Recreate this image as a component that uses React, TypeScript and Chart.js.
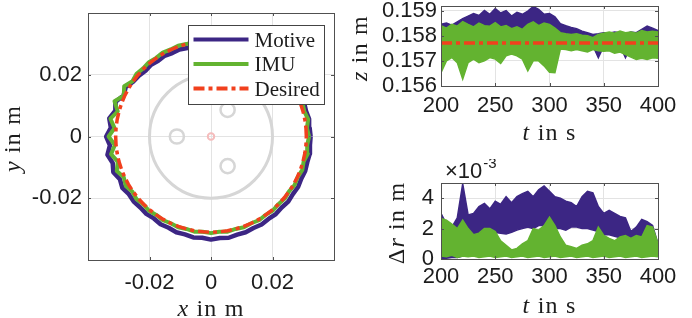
import React, { useEffect, useRef } from 'react';
import { Chart, registerables } from 'chart.js';

Chart.register(...registerables);

// ================= DATA =================
// Left panel: trajectory in the x-y plane, radius (mm) read at each angle (deg)
const ANGLES_DEG = [
  0, 5, 10, 15, 20, 25, 30, 35, 40, 45, 50, 55,
  60, 65, 70, 75, 80, 85, 90, 95, 100, 105, 110, 115,
  120, 125, 130, 135, 140, 145, 150, 155, 160, 165, 170, 175,
  180, 185, 190, 195, 200, 205, 210, 215, 220, 225, 230, 235,
  240, 245, 250, 255, 260, 265, 270, 275, 280, 285, 290, 295,
  300, 305, 310, 315, 320, 325, 330, 335, 340, 345, 350, 355,
];
const MOTIVE_R_MM = [
  32.4, 32.2, 32.4, 32.0, 32.2, 31.8, 31.6, 31.3, 31.3, 31.0, 31.0, 30.7,
  30.8, 30.5, 30.6, 30.3, 30.4, 30.1, 30.2, 29.9, 30.1, 29.7, 30.0, 29.8,
  30.2, 29.9, 30.3, 30.1, 30.6, 30.9, 32.0, 31.4, 33.0, 32.2, 33.6, 32.7,
  34.1, 33.0, 34.2, 33.1, 33.8, 32.7, 33.3, 32.6, 32.8, 32.5, 32.7, 32.4,
  32.8, 32.6, 33.0, 32.8, 33.2, 32.9, 33.4, 33.0, 33.3, 32.9, 33.0, 32.7,
  32.9, 32.6, 32.8, 32.5, 32.8, 32.5, 32.7, 32.4, 32.6, 32.4, 32.6, 32.3,
];
const IMU_R_MM = [
  31.9, 31.3, 32.1, 31.4, 31.7, 31.1, 31.3, 31.0, 31.2, 30.9, 31.1, 30.9,
  31.1, 30.9, 31.1, 30.9, 31.1, 30.9, 31.1, 31.0, 31.2, 31.0, 31.3, 31.1,
  31.4, 31.1, 31.4, 31.2, 31.6, 31.2, 32.6, 31.3, 33.4, 31.4, 33.2, 31.5,
  33.3, 31.4, 33.0, 31.4, 32.6, 31.3, 32.0, 31.2, 31.6, 31.1, 31.4, 31.0,
  31.3, 31.0, 31.3, 31.0, 31.3, 31.0, 31.3, 31.0, 31.3, 31.0, 31.3, 31.0,
  31.3, 31.0, 31.3, 31.0, 31.3, 31.0, 31.4, 31.1, 31.6, 31.2, 32.0, 31.4,
];
const DESIRED_R_MM = 31.0;
const XY_TICKS = [-0.02, 0, 0.02];
const XY_MIN = -0.04;
const XY_MAX = 0.04;

// Background sketch of the platform (centre x, centre y, radius in m)
const SKETCH_CX = [0, -0.0111, 0.0054, 0.0054, 0];
const SKETCH_CY = [0, 0, 0.0086, -0.0096, 0];
const SKETCH_R = [0.02, 0.0023, 0.0023, 0.0023, 0.00105];

// Right panels: time in s
const TIME_S = [
  200, 205, 210, 215, 220, 225, 230, 235, 240, 245, 250, 255, 260, 265, 270, 275, 280, 285, 290, 295, 300,
  305, 310, 315, 320, 325, 330, 335, 340, 345, 350, 355, 360, 365, 370, 375, 380, 385, 390, 395, 400,
];
const T_TICKS = [200, 250, 300, 350, 400];

// z in m (upper / lower envelope of each noisy trace)
const Z_TICKS = [0.156, 0.157, 0.158, 0.159];
const Z_MOTIVE_HI = [
  0.15845, 0.1585, 0.15842, 0.15855, 0.15868, 0.15878, 0.15888, 0.1588, 0.159, 0.15885, 0.15908,
  0.1589, 0.159, 0.15878, 0.15893, 0.15885, 0.15898, 0.15916, 0.15905, 0.15885, 0.15888,
  0.15875, 0.15848, 0.1584, 0.15833, 0.15828, 0.15818, 0.15812, 0.15805, 0.15808, 0.15812,
  0.1581, 0.15815, 0.15812, 0.15808, 0.15815, 0.15812, 0.15825, 0.15838, 0.1583, 0.1582,
];
const Z_MOTIVE_LO = [
  0.1579, 0.15785, 0.15792, 0.15788, 0.1579, 0.15785, 0.15792, 0.1579, 0.15788, 0.15792, 0.1579,
  0.15786, 0.15792, 0.1579, 0.15788, 0.15792, 0.1579, 0.15786, 0.1579, 0.15792, 0.15788,
  0.15785, 0.1578, 0.15778, 0.1578, 0.15776, 0.1578, 0.15775, 0.1576, 0.15712, 0.15758,
  0.15762, 0.15758, 0.1576, 0.15712, 0.15758, 0.15762, 0.15758, 0.1576, 0.15758, 0.1576,
];
const Z_IMU_HI = [
  0.1584, 0.1583, 0.15845, 0.15838, 0.15856, 0.15845, 0.15835, 0.1585, 0.1584, 0.15838, 0.15852,
  0.15835, 0.1584, 0.15828, 0.15835, 0.15825, 0.15845, 0.15855, 0.1584, 0.1585, 0.15845,
  0.1583, 0.15812, 0.15808, 0.15805, 0.15808, 0.15802, 0.158, 0.15792, 0.15805, 0.1581,
  0.15815, 0.1581, 0.15818, 0.15812, 0.15815, 0.1581, 0.1582, 0.15815, 0.15818, 0.15815,
];
const Z_IMU_LO = [
  0.15653, 0.157, 0.15713, 0.15693, 0.15627, 0.15693, 0.15707, 0.15693, 0.157, 0.15713, 0.15707,
  0.1569, 0.1572, 0.15727, 0.1572, 0.15707, 0.1566, 0.157, 0.157, 0.1568, 0.15655,
  0.15653, 0.15747, 0.15745, 0.1574, 0.15745, 0.1574, 0.15735, 0.15745, 0.1574, 0.15738,
  0.1574, 0.1573, 0.15735, 0.15725, 0.15715, 0.15705, 0.1571, 0.15705, 0.15712, 0.1571,
];
const Z_DESIRED = 0.15771;

// Δr in units of 1e-3 m (upper / lower envelope)
const DR_TICKS = [0, 2, 4];
const DR_MOTIVE_HI = [
  3.0, 2.3, 2.1, 2.7, 4.95, 2.9, 3.0, 3.45, 3.65, 3.3, 3.8,
  3.6, 4.1, 3.7, 4.1, 4.3, 4.45, 4.1, 4.55, 4.8, 4.45,
  4.1, 4.0, 3.8, 3.7, 3.45, 4.1, 4.45, 4.35, 3.45, 3.0,
  3.2, 3.0, 2.8, 2.7, 1.8, 2.1, 2.6, 2.45, 2.2, 1.0,
];
const DR_MOTIVE_LO = [
  0.05, 0.05, 0.1, 0.1, 0.2, 0.5, 1.2, 1.5, 1.7, 1.8, 1.75,
  1.7, 1.65, 1.75, 1.9, 2.0, 2.1, 2.0, 2.2, 2.2, 2.1,
  2.0, 2.0, 1.9, 2.1, 2.1, 2.0, 2.0, 1.9, 1.8, 1.6,
  1.6, 1.5, 1.4, 1.3, 1.1, 1.0, 0.9, 0.9, 0.8, 0.7,
];
const DR_IMU_HI = [
  2.67, 2.55, 2.3, 2.0, 2.55, 2.0, 1.6, 1.7, 2.0, 2.0, 1.8,
  1.2, 0.9, 0.6, 0.7, 1.0, 1.2, 2.0, 1.9, 2.2, 2.75,
  2.2, 1.45, 0.9, 0.8, 0.7, 0.9, 1.0, 1.2, 2.1, 1.55,
  1.35, 1.2, 1.45, 1.55, 1.35, 1.55, 1.45, 2.2, 2.1, 1.0,
];
const DR_IMU_LO = [
  0.2, 0.15, 0.25, 0.1, 0.2, 0.15, 0.2, 0.1, 0.15, 0.2, 0.1,
  0.15, 0.2, 0.1, 0.15, 0.2, 0.1, 0.15, 0.2, 0.1, 0.15,
  0.2, 0.1, 0.15, 0.2, 0.1, 0.15, 0.2, 0.1, 0.15, 0.2,
  0.1, 0.15, 0.2, 0.1, 0.15, 0.2, 0.1, 0.15, 0.2, 0.15,
];

// ================= STYLE =================
const C_MOTIVE = '#3c2684';
const C_IMU = '#63b330';
const C_DESIRED = '#f1401d';
const SANS = '"Liberation Sans", Arial, Helvetica, sans-serif';
const SERIF = '"Liberation Serif", "Times New Roman", serif';
const TEXT = '#1c1c1c';
const GRID = '#e3e3e3';
const BOX = '#505050';
const DASH = [11, 4, 4, 4];
const SKETCH_COLORS = ['#d6d6d6', '#d6d6d6', '#d6d6d6', '#d6d6d6', '#f5bcbc'];
const SKETCH_WIDTHS = [3, 2.5, 2.5, 2.5, 2];

type Seg = { text: string; italic?: boolean };

function drawRich(ctx: any, segs: Seg[], x: number, y: number, rotate: boolean, size: number, spacing: number) {
  ctx.save();
  ctx.translate(x, y);
  if (rotate) ctx.rotate(-Math.PI / 2);
  const font = (it?: boolean) => `${it ? 'italic ' : ''}${size}px ${SERIF}`;
  ctx.letterSpacing = `${spacing}px`;
  let total = 0;
  const widths = segs.map((s) => {
    ctx.font = font(s.italic);
    const w = ctx.measureText(s.text).width;
    total += w;
    return w;
  });
  let cx = -total / 2;
  ctx.fillStyle = TEXT;
  ctx.textBaseline = 'alphabetic';
  ctx.textAlign = 'left';
  segs.forEach((s, i) => {
    ctx.font = font(s.italic);
    ctx.fillText(s.text, cx, 0);
    cx += widths[i];
  });
  ctx.restore();
}

function linAxis(o: { min: number; max: number; ticks: number[]; fmt: (v: number) => string; size: number; horizontal: boolean; pad: number }) {
  return {
    type: 'linear',
    min: o.min,
    max: o.max,
    afterBuildTicks: (s: any) => {
      s.ticks = o.ticks.map((v) => ({ value: v }));
    },
    afterFit: (s: any) => {
      if (o.horizontal) s.height = o.size;
      else s.width = o.size;
      s.paddingLeft = 0;
      s.paddingRight = 0;
      s.paddingTop = 0;
      s.paddingBottom = 0;
    },
    grid: { color: GRID, lineWidth: 1, drawTicks: false },
    border: { display: false },
    ticks: {
      autoSkip: false,
      maxRotation: 0,
      minRotation: 0,
      padding: o.pad,
      color: TEXT,
      font: { family: SANS, size: 22 },
      callback: (v: any) => o.fmt(Number(v)),
    },
  };
}

const boxPlugin = {
  id: 'matlabBox',
  afterDraw(chart: any) {
    const { ctx, chartArea: a, scales } = chart;
    ctx.save();
    ctx.strokeStyle = BOX;
    ctx.lineWidth = 1;
    const tl = 3;
    ctx.beginPath();
    scales.x.ticks.forEach((t: any) => {
      const px = Math.round(scales.x.getPixelForValue(t.value)) + 0.5;
      ctx.moveTo(px, a.bottom);
      ctx.lineTo(px, a.bottom - tl);
      ctx.moveTo(px, a.top);
      ctx.lineTo(px, a.top + tl);
    });
    scales.y.ticks.forEach((t: any) => {
      const py = Math.round(scales.y.getPixelForValue(t.value)) + 0.5;
      ctx.moveTo(a.left, py);
      ctx.lineTo(a.left + tl, py);
      ctx.moveTo(a.right, py);
      ctx.lineTo(a.right - tl, py);
    });
    ctx.stroke();
    ctx.strokeRect(Math.round(a.left) + 0.5, Math.round(a.top) + 0.5, Math.round(a.width), Math.round(a.height));
    ctx.restore();
  },
};

function titlesPlugin(xSegs: Seg[], xOff: number, ySegs: Seg[], yOff: number) {
  return {
    id: 'mathTitles',
    afterDraw(chart: any) {
      const { ctx, chartArea: a } = chart;
      drawRich(ctx, xSegs, (a.left + a.right) / 2, a.bottom + xOff, false, 24, 1.2);
      drawRich(ctx, ySegs, a.left - yOff, (a.top + a.bottom) / 2 + 2, true, 24, 1.2);
    },
  };
}

const sketchPlugin = {
  id: 'sketch',
  beforeDatasetsDraw(chart: any) {
    const { ctx, scales, chartArea: a } = chart;
    const x = scales.x;
    const y = scales.y;
    ctx.save();
    ctx.beginPath();
    ctx.rect(a.left, a.top, a.width, a.height);
    ctx.clip();
    SKETCH_CX.forEach((cx, i) => {
      const px = x.getPixelForValue(cx);
      const py = y.getPixelForValue(SKETCH_CY[i]);
      const rx = Math.abs(x.getPixelForValue(cx + SKETCH_R[i]) - px);
      const ry = Math.abs(y.getPixelForValue(SKETCH_CY[i] + SKETCH_R[i]) - py);
      ctx.beginPath();
      ctx.ellipse(px, py, rx, ry, 0, 0, Math.PI * 2);
      ctx.strokeStyle = SKETCH_COLORS[i];
      ctx.lineWidth = SKETCH_WIDTHS[i];
      ctx.stroke();
    });
    ctx.restore();
  },
};

const legendPlugin = {
  id: 'insideLegend',
  afterDraw(chart: any) {
    const { ctx, chartArea: a } = chart;
    const w = 136;
    const h = 79;
    const left = Math.round(a.right - 10 - w) + 0.5;
    const top = Math.round(a.top + 12) + 0.5;
    ctx.save();
    ctx.fillStyle = '#ffffff';
    ctx.fillRect(left, top, w, h);
    ctx.strokeStyle = '#444444';
    ctx.lineWidth = 1;
    ctx.strokeRect(left, top, w, h);
    const order = ['Motive', 'IMU', 'Desired'];
    order.forEach((label, i) => {
      const ds = chart.data.datasets.find((d: any) => d.label === label);
      const cy = top + 14 + i * 24.5;
      ctx.beginPath();
      ctx.setLineDash(ds.borderDash || []);
      ctx.strokeStyle = ds.borderColor;
      ctx.lineWidth = 4;
      ctx.moveTo(left + 5, cy);
      ctx.lineTo(left + 60, cy);
      ctx.stroke();
      ctx.setLineDash([]);
      ctx.fillStyle = TEXT;
      ctx.font = `21px ${SERIF}`;
      ctx.textBaseline = 'alphabetic';
      ctx.textAlign = 'left';
      ctx.fillText(label, left + 66, cy + 7);
    });
    ctx.restore();
  },
};

const exponentPlugin = {
  id: 'exponent',
  afterDraw(chart: any) {
    const { ctx, chartArea: a } = chart;
    ctx.save();
    ctx.fillStyle = TEXT;
    ctx.textBaseline = 'alphabetic';
    ctx.textAlign = 'left';
    ctx.font = `22px ${SANS}`;
    const base = '\u00d710';
    ctx.fillText(base, a.left + 4, a.top - 5);
    const w = ctx.measureText(base).width;
    ctx.font = `15px ${SANS}`;
    ctx.fillText('-3', a.left + 4 + w + 1, a.top - 15);
    ctx.restore();
  },
};

function polar(radiiMm: number[]) {
  const pts = ANGLES_DEG.map((deg, i) => {
    const r = radiiMm[i] / 1000;
    const t = (deg * Math.PI) / 180;
    return { x: r * Math.cos(t), y: r * Math.sin(t) };
  });
  pts.push(pts[0]);
  return pts;
}

function series(vals: number[]) {
  return TIME_S.map((t, i) => ({ x: t, y: vals[i] }));
}

const fmtXY = (v: number) => (Math.abs(v) < 1e-12 ? '0' : String(v));

function leftConfig(): any {
  return {
    type: 'scatter',
    data: {
      datasets: [
        {
          label: 'Desired',
          data: polar(ANGLES_DEG.map(() => DESIRED_R_MM)),
          showLine: true,
          borderColor: C_DESIRED,
          borderWidth: 3.5,
          borderDash: DASH,
          pointRadius: 0,
          tension: 0,
        },
        { label: 'IMU', data: polar(IMU_R_MM), showLine: true, borderColor: C_IMU, borderWidth: 4, borderJoinStyle: 'round', pointRadius: 0, tension: 0 },
        { label: 'Motive', data: polar(MOTIVE_R_MM), showLine: true, borderColor: C_MOTIVE, borderWidth: 4.5, borderJoinStyle: 'round', pointRadius: 0, tension: 0 },
      ],
    },
    options: {
      animation: false,
      responsive: false,
      devicePixelRatio: 1,
      events: [],
      layout: { padding: { left: 0, top: 13, right: 11, bottom: 0 } },
      plugins: { legend: { display: false }, tooltip: { enabled: false } },
      scales: {
        x: linAxis({ min: XY_MIN, max: XY_MAX, ticks: XY_TICKS, fmt: fmtXY, size: 58, horizontal: true, pad: 10 }),
        y: linAxis({ min: XY_MIN, max: XY_MAX, ticks: XY_TICKS, fmt: fmtXY, size: 88, horizontal: false, pad: 6 }),
      },
    },
    plugins: [
      sketchPlugin,
      boxPlugin,
      legendPlugin,
      titlesPlugin([{ text: 'x', italic: true }, { text: ' in m' }], 56, [{ text: 'y', italic: true }, { text: ' in m' }], 68),
    ],
  };
}

function bandDatasets(hiM: number[], loM: number[], hiI: number[], loI: number[], desired: number | null) {
  const ds: any[] = [];
  if (desired !== null) {
    ds.push({
      label: 'Desired',
      data: [
        { x: TIME_S[0], y: desired },
        { x: TIME_S[TIME_S.length - 1], y: desired },
      ],
      borderColor: C_DESIRED,
      borderWidth: 3.5,
      borderDash: DASH,
      pointRadius: 0,
      fill: false,
    });
  }
  ds.push({ label: 'IMU', data: series(hiI), borderColor: C_IMU, backgroundColor: C_IMU, borderWidth: 1.5, pointRadius: 0, tension: 0, fill: '+1' });
  ds.push({ label: 'IMU-low', data: series(loI), borderColor: C_IMU, borderWidth: 1.5, pointRadius: 0, tension: 0, fill: false });
  ds.push({ label: 'Motive', data: series(hiM), borderColor: C_MOTIVE, backgroundColor: C_MOTIVE, borderWidth: 1.5, pointRadius: 0, tension: 0, fill: '+1' });
  ds.push({ label: 'Motive-low', data: series(loM), borderColor: C_MOTIVE, borderWidth: 1.5, pointRadius: 0, tension: 0, fill: false });
  return ds;
}

function zConfig(): any {
  return {
    type: 'line',
    data: { datasets: bandDatasets(Z_MOTIVE_HI, Z_MOTIVE_LO, Z_IMU_HI, Z_IMU_LO, Z_DESIRED) },
    options: {
      animation: false,
      responsive: false,
      devicePixelRatio: 1,
      events: [],
      layout: { padding: { left: 0, top: 6, right: 34, bottom: 0 } },
      plugins: { legend: { display: false }, tooltip: { enabled: false } },
      scales: {
        x: linAxis({ min: 200, max: 400, ticks: T_TICKS, fmt: (v) => String(v), size: 73, horizontal: true, pad: 7 }),
        y: linAxis({ min: 0.156, max: 0.15918, ticks: Z_TICKS, fmt: (v) => v.toFixed(3), size: 96, horizontal: false, pad: 4 }),
      },
    },
    plugins: [boxPlugin, titlesPlugin([{ text: 't', italic: true }, { text: ' in s' }], 54, [{ text: 'z', italic: true }, { text: ' in m' }], 74)],
  };
}

function drConfig(): any {
  return {
    type: 'line',
    data: { datasets: bandDatasets(DR_MOTIVE_HI, DR_MOTIVE_LO, DR_IMU_HI, DR_IMU_LO, null) },
    options: {
      animation: false,
      responsive: false,
      devicePixelRatio: 1,
      events: [],
      layout: { padding: { left: 0, top: 24, right: 34, bottom: 0 } },
      plugins: { legend: { display: false }, tooltip: { enabled: false } },
      scales: {
        x: linAxis({ min: 200, max: 400, ticks: T_TICKS, fmt: (v) => String(v), size: 59, horizontal: true, pad: 5 }),
        y: linAxis({ min: 0, max: 5, ticks: DR_TICKS, fmt: (v) => String(v), size: 96, horizontal: false, pad: 7 }),
      },
    },
    plugins: [
      boxPlugin,
      exponentPlugin,
      titlesPlugin([{ text: 't', italic: true }, { text: ' in s' }], 54, [{ text: '\u0394' }, { text: 'r', italic: true }, { text: ' in m' }], 37),
    ],
  };
}

export default function App() {
  const c1 = useRef<HTMLCanvasElement>(null);
  const c2 = useRef<HTMLCanvasElement>(null);
  const c3 = useRef<HTMLCanvasElement>(null);

  useEffect(() => {
    const charts = [
      new Chart(c1.current as HTMLCanvasElement, leftConfig()),
      new Chart(c2.current as HTMLCanvasElement, zConfig()),
      new Chart(c3.current as HTMLCanvasElement, drConfig()),
    ];
    return () => charts.forEach((c) => c.destroy());
  }, []);

  return (
    <div style={{ position: 'absolute', left: 0, top: 0, width: 692, height: 318, background: '#ffffff', overflow: 'hidden' }}>
      <canvas ref={c1} width={345} height={318} style={{ position: 'absolute', left: 0, top: 0, width: 345, height: 318 }} />
      <canvas ref={c2} width={347} height={159} style={{ position: 'absolute', left: 345, top: 0, width: 347, height: 159 }} />
      <canvas ref={c3} width={347} height={159} style={{ position: 'absolute', left: 345, top: 159, width: 347, height: 159 }} />
    </div>
  );
}
